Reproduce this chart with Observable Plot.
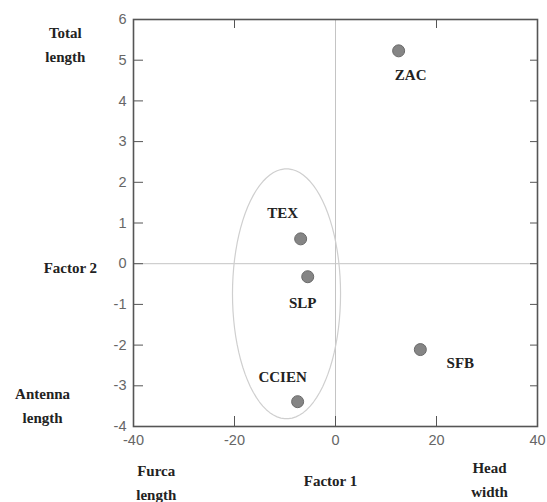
<!DOCTYPE html>
<html>
<head>
<meta charset="utf-8">
<script src="https://cdn.jsdelivr.net/npm/d3@7"></script>
<script src="https://cdn.jsdelivr.net/npm/@observablehq/plot@0.6"></script>
<style>
  html, body { margin: 0; padding: 0; background: #fff; overflow: hidden; }
</style>
</head>
<body>
<div id="chart"></div>
<script>
// Site scores on the first two factors
const sites = ["ZAC", "TEX", "SLP", "CCIEN", "SFB"];
const factor1 = [12.5, -6.9, -5.5, -7.5, 16.8];
const factor2 = [5.23, 0.61, -0.32, -3.39, -2.11];

// Offsets of each site name from its dot (px)
const labelDx = [12, -18, -5, -15, 40];
const labelDy = [24, -26, 26, -24, 14];

// Tick values
const xTicks = [-40, -20, 0, 20, 40];
const yTicks = [-4, -3, -2, -1, 0, 1, 2, 3, 4, 5, 6];

// Grouping ellipse around TEX, SLP and CCIEN (centre and semi-axes in data units)
const ellipseCenter = [-9.7, -0.74];
const ellipseRadii = [10.7, 3.07];
const ellipsePts = d3.range(0, 361, 4).map(a => {
  const t = a * Math.PI / 180;
  return {x: ellipseCenter[0] + ellipseRadii[0] * Math.cos(t), y: ellipseCenter[1] + ellipseRadii[1] * Math.sin(t)};
});

const points = sites.map((s, i) => ({site: s, x: factor1[i], y: factor2[i]}));

// Variable names placed around the plot frame
const varNames = [
  {text: "Total\nlength", x: -53.5, y: 5.45},
  {text: "Factor 2", x: -52.5, y: -0.05},
  {text: "Antenna\nlength", x: -58, y: -3.42},
  {text: "Furca\nlength", x: -35.5, y: -5.33},
  {text: "Factor 1", x: -1, y: -5.27},
  {text: "Head\nwidth", x: 30.5, y: -5.25}
];

const serif = "'Liberation Serif', 'DejaVu Serif', serif";
const sans = "'Liberation Sans', Arial, sans-serif";

const chart = Plot.plot({
  width: 547,
  height: 502,
  marginLeft: 133,
  marginRight: 10,
  marginTop: 19,
  marginBottom: 76,
  style: {fontFamily: sans, background: "#fff", overflow: "visible"},
  x: {domain: [-40, 40]},
  y: {domain: [-4, 6]},
  marks: [
    // reference lines through the origin
    Plot.ruleX([0], {stroke: "#c4c4c4", strokeWidth: 1}),
    Plot.ruleY([0], {stroke: "#c4c4c4", strokeWidth: 1}),
    // ellipse
    Plot.line(ellipsePts, {x: "x", y: "y", stroke: "#cfcfcf", strokeWidth: 1.2, curve: "linear-closed"}),
    // axes with inward ticks
    Plot.axisX({anchor: "bottom", ticks: xTicks, tickSize: -10, tickPadding: 18, fill: "#666", stroke: "#555", label: null, tickFormat: d => d}),
    Plot.axisX({anchor: "top", ticks: [-20, 20], tickSize: -8, label: null, tickFormat: () => "", stroke: "#555"}),
    Plot.axisY({anchor: "left", ticks: yTicks, tickSize: -10, tickPadding: 17, fill: "#666", stroke: "#555", label: null, tickFormat: d => d}),
    Plot.axisY({anchor: "right", ticks: yTicks, tickSize: -8, label: null, tickFormat: () => "", stroke: "#555"}),
    Plot.frame({stroke: "#555", strokeWidth: 1.6}),
    // sites
    Plot.dot(points, {x: "x", y: "y", r: 6, fill: "#858585", stroke: "#6a6a6a", strokeWidth: 1}),
    ...points.map((p, i) => Plot.text([p], {x: "x", y: "y", text: "site", dx: labelDx[i], dy: labelDy[i], fontFamily: serif, fontWeight: "bold", fontSize: 15, fill: "#222"})),
    // variable names
    Plot.text(varNames, {x: "x", y: "y", text: "text", fontFamily: serif, fontWeight: "bold", fontSize: 15, fill: "#222", lineHeight: 1.6, clip: false})
  ]
});

// larger numerals on the axes
d3.select(chart).selectAll("text")
  .filter(function () { return /^[-\u2212]?\d+$/.test(this.textContent); })
  .style("font-size", "14.5px");

document.getElementById("chart").appendChild(chart);
</script>
</body>
</html>
